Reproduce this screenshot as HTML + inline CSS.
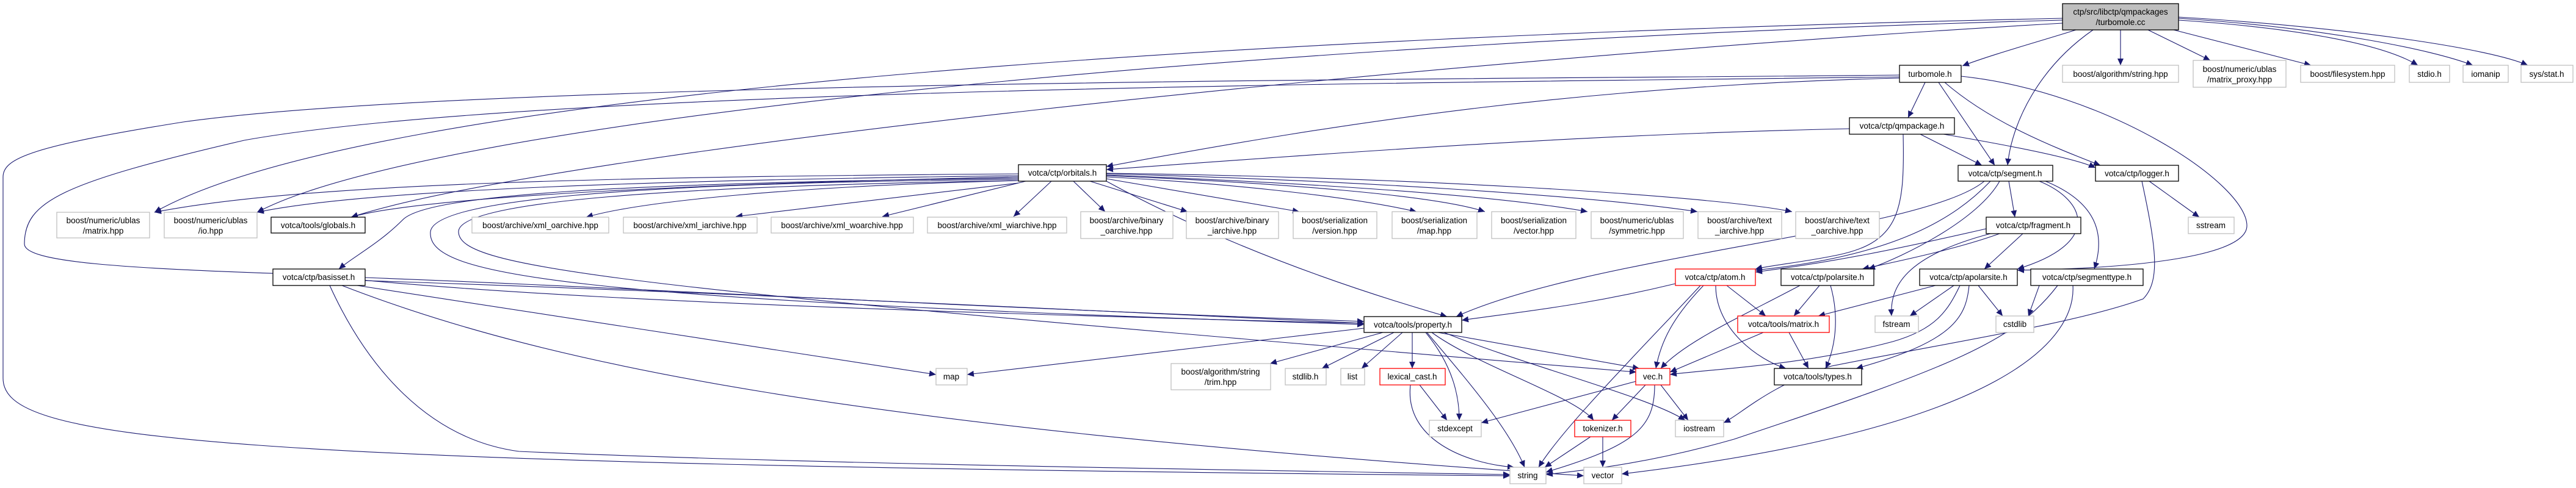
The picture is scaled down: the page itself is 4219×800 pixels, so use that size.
<!DOCTYPE html>
<html><head><meta charset="utf-8"><style>
html,body{margin:0;padding:0;background:#fff;}
svg{display:block}
text{font-family:"Liberation Sans",sans-serif;font-size:13.5px;fill:#000;text-anchor:middle;}
.g{fill:#fff;stroke:#bfbfbf;stroke-width:1.3}
.b{fill:#fff;stroke:#000;stroke-width:1.3}
.r{fill:#fff;stroke:#ff0000;stroke-width:1.3}
path.e{fill:none;stroke:#191970;stroke-width:1.1}
</style></head><body>
<svg width="4219" height="800" viewBox="0 0 4219 800" xmlns="http://www.w3.org/2000/svg">
<defs><marker id="a" markerUnits="userSpaceOnUse" markerWidth="12" markerHeight="10" refX="11" refY="5" orient="auto"><path d="M0,0 L11,5 L0,10 z" fill="#191970"/></marker></defs>
<g marker-end="url(#a)">
<path class="e" d="M3400,49 C3350,65 3260,90 3214,108"/>
<path class="e" d="M3473,49 L3473,107"/>
<path class="e" d="M3518,49 L3620,99"/>
<path class="e" d="M3560,49 L3785,107"/>
<path class="e" d="M3568,33 C3750,45 3900,70 3960,107"/>
<path class="e" d="M3568,30 C3800,45 3980,80 4050,107"/>
<path class="e" d="M3568,28 C3850,45 4080,80 4140,107"/>
<path class="e" d="M3428,49 C3340,110 3295,200 3288,271"/>
<path class="e" d="M3378,30 C2000,60 600,150 253,348"/>
<path class="e" d="M3378,33 C2000,70 700,200 421,348"/>
<path class="e" d="M3378,38 C2300,100 900,250 575,356"/>
<path class="e" d="M3153,135 L3125,193"/>
<path class="e" d="M3175,135 L3267,271"/>
<path class="e" d="M3185,135 C3260,200 3360,240 3440,271"/>
<path class="e" d="M3212,125 C3450,150 3680,300 3680,370 C3680,420 3500,440 3304,443"/>
<path class="e" d="M3111,128 C2600,140 2200,200 1812,273"/>
<path class="e" d="M3111,123 C2500,130 800,130 300,200 C50,240 5,260 5,290 L5,620 C5,720 300,760 2473,780"/>
<path class="e" d="M3111,126 C2500,135 900,140 400,230 C100,300 40,330 40,400 C40,430 200,440 500,450 C700,470 1000,500 2234,530"/>
<path class="e" d="M3145,220 L3246,271"/>
<path class="e" d="M3183,220 C3300,240 3400,260 3432,275"/>
<path class="e" d="M3029,211 C2600,220 2200,250 1812,278"/>
<path class="e" d="M3117,220 C3120,350 3110,400 3000,420 C2950,430 2900,435 2875,441"/>
<path class="e" d="M3260,297 C3200,360 3100,420 2875,443"/>
<path class="e" d="M3275,297 C3240,360 3120,420 3060,441"/>
<path class="e" d="M3250,297 C3150,380 2600,420 2385,519"/>
<path class="e" d="M3290,297 L3300,356"/>
<path class="e" d="M3340,297 C3420,330 3440,400 3304,441"/>
<path class="e" d="M3350,297 C3430,330 3450,380 3430,441"/>
<path class="e" d="M3253,375 C3100,410 3000,430 2875,446"/>
<path class="e" d="M3275,383 C3200,410 3100,430 3050,441"/>
<path class="e" d="M3313,383 L3250,441"/>
<path class="e" d="M3260,383 C3120,420 3095,470 3098,518"/>
<path class="e" d="M3520,297 L3602,356"/>
<path class="e" d="M3508,297 C3530,400 3540,460 3510,490 C3400,530 3200,560 3000,600 C2900,630 2850,680 2823,693"/>
<path class="e" d="M3340,468 L3322,518"/>
<path class="e" d="M3370,468 C3300,560 3200,600 2840,720 C2700,760 2600,770 2532,778"/>
<path class="e" d="M3395,468 C3400,550 3300,700 2656,777"/>
<path class="e" d="M3170,468 L2978,518"/>
<path class="e" d="M3200,468 L3128,518"/>
<path class="e" d="M3240,468 L3280,518"/>
<path class="e" d="M3210,468 C3190,510 3170,540 3100,560 C2950,600 2800,605 2735,614"/>
<path class="e" d="M3225,468 C3220,520 3200,560 3040,604"/>
<path class="e" d="M2948,468 C2850,520 2760,560 2720,604"/>
<path class="e" d="M2980,468 L2938,518"/>
<path class="e" d="M2998,468 C3010,510 3010,560 2990,604"/>
<path class="e" d="M2744,465 C2600,500 2500,510 2394,525"/>
<path class="e" d="M2790,468 C2740,520 2720,560 2712,604"/>
<path class="e" d="M2828,468 L2892,518"/>
<path class="e" d="M2810,468 C2810,540 2880,590 2925,604"/>
<path class="e" d="M2785,468 C2700,560 2560,700 2520,766"/>
<path class="e" d="M2888,545 L2735,610"/>
<path class="e" d="M2930,545 L2962,604"/>
<path class="e" d="M2680,625 L2426,693"/>
<path class="e" d="M2695,631 L2640,689"/>
<path class="e" d="M2720,631 L2765,689"/>
<path class="e" d="M2710,631 C2710,700 2680,730 2532,774"/>
<path class="e" d="M2605,716 L2530,766"/>
<path class="e" d="M2625,716 L2625,766"/>
<path class="e" d="M2325,631 L2370,689"/>
<path class="e" d="M2310,631 C2300,720 2400,760 2480,766"/>
<path class="e" d="M2234,538 L1584,614"/>
<path class="e" d="M2265,545 L2080,596"/>
<path class="e" d="M2283,545 L2165,604"/>
<path class="e" d="M2297,545 L2230,604"/>
<path class="e" d="M2313,545 L2313,604"/>
<path class="e" d="M2335,545 C2380,600 2390,650 2390,689"/>
<path class="e" d="M2337,545 C2400,620 2470,700 2497,766"/>
<path class="e" d="M2355,545 L2685,604"/>
<path class="e" d="M2345,545 C2420,600 2580,650 2610,689"/>
<path class="e" d="M2365,545 C2500,600 2700,650 2760,689"/>
<path class="e" d="M598,460 C1200,480 1800,510 2234,530"/>
<path class="e" d="M598,455 C1000,470 1500,500 2234,527"/>
<path class="e" d="M585,468 L1533,614"/>
<path class="e" d="M540,468 C600,600 700,720 850,740 C1300,760 2000,770 2473,778"/>
<path class="e" d="M560,468 C900,600 1400,700 2594,780"/>
<path class="e" d="M1668,285 C1000,290 500,300 253,348"/>
<path class="e" d="M1668,288 C1100,295 600,310 421,348"/>
<path class="e" d="M1668,290 C1200,300 700,320 575,356"/>
<path class="e" d="M1668,292 C1000,300 700,320 660,360 C620,400 580,420 555,441"/>
<path class="e" d="M1668,294 C1000,300 710,330 705,380 C700,450 900,490 2234,532"/>
<path class="e" d="M1668,296 C1100,305 750,330 751,380 C752,440 1000,470 2680,610"/>
<path class="e" d="M1668,296 C1300,305 1050,330 960,356"/>
<path class="e" d="M1668,300 L1205,355"/>
<path class="e" d="M1680,297 L1445,355"/>
<path class="e" d="M1722,297 L1660,355"/>
<path class="e" d="M1758,297 L1810,347"/>
<path class="e" d="M1785,297 L1945,347"/>
<path class="e" d="M1812,293 L2128,347"/>
<path class="e" d="M1812,290 C2000,300 2200,320 2320,347"/>
<path class="e" d="M1812,288 C2100,300 2350,320 2432,347"/>
<path class="e" d="M1812,287 C2150,300 2450,320 2600,347"/>
<path class="e" d="M1812,285 C2200,295 2600,320 2780,347"/>
<path class="e" d="M1812,284 C2300,290 2800,320 2935,347"/>
<path class="e" d="M1812,297 C2000,400 2200,470 2370,519"/>
</g>
<!-- nodes -->
<rect x="3378" y="6" width="190" height="43" fill="#bfbfbf" stroke="#000" stroke-width="1.3"/>
<text x="3473" y="24">ctp/src/libctp/qmpackages</text><text x="3473" y="41">/turbomole.cc</text>
<rect class="b" x="3111" y="107" width="101" height="28"/><text x="3161" y="126">turbomole.h</text>
<rect class="g" x="3378" y="107" width="190" height="28"/><text x="3473" y="126">boost/algorithm/string.hpp</text>
<rect class="g" x="3592" y="99" width="152" height="44"/><text x="3668" y="118">boost/numeric/ublas</text><text x="3668" y="135">/matrix_proxy.hpp</text>
<rect class="g" x="3768" y="107" width="154" height="28"/><text x="3845" y="126">boost/filesystem.hpp</text>
<rect class="g" x="3946" y="107" width="66" height="28"/><text x="3979" y="126">stdio.h</text>
<rect class="g" x="4034" y="107" width="74" height="28"/><text x="4071" y="126">iomanip</text>
<rect class="g" x="4129" y="107" width="85" height="28"/><text x="4171" y="126">sys/stat.h</text>
<rect class="b" x="3029" y="193" width="172" height="27"/><text x="3115" y="211">votca/ctp/qmpackage.h</text>
<rect class="b" x="3207" y="271" width="155" height="26"/><text x="3284" y="289">votca/ctp/segment.h</text>
<rect class="b" x="3432" y="271" width="136" height="26"/><text x="3500" y="289">votca/ctp/logger.h</text>
<rect class="b" x="1668" y="270" width="144" height="27"/><text x="1740" y="288">votca/ctp/orbitals.h</text>
<rect class="b" x="3253" y="356" width="155" height="27"/><text x="3330" y="374">votca/ctp/fragment.h</text>
<rect class="g" x="3584" y="356" width="75" height="27"/><text x="3621" y="374">sstream</text>
<rect class="g" x="93" y="348" width="152" height="42"/><text x="169" y="366">boost/numeric/ublas</text><text x="169" y="383">/matrix.hpp</text>
<rect class="g" x="269" y="348" width="152" height="42"/><text x="345" y="366">boost/numeric/ublas</text><text x="345" y="383">/io.hpp</text>
<rect class="b" x="444" y="356" width="154" height="26"/><text x="521" y="374">votca/tools/globals.h</text>
<rect class="g" x="773" y="356" width="224" height="26"/><text x="885" y="374">boost/archive/xml_oarchive.hpp</text>
<rect class="g" x="1021" y="356" width="219" height="26"/><text x="1130" y="374">boost/archive/xml_iarchive.hpp</text>
<rect class="g" x="1263" y="356" width="233" height="26"/><text x="1379" y="374">boost/archive/xml_woarchive.hpp</text>
<rect class="g" x="1519" y="356" width="228" height="26"/><text x="1633" y="374">boost/archive/xml_wiarchive.hpp</text>
<rect class="g" x="1770" y="347" width="151" height="44"/><text x="1845" y="366">boost/archive/binary</text><text x="1845" y="383">_oarchive.hpp</text>
<rect class="g" x="1943" y="347" width="151" height="44"/><text x="2018" y="366">boost/archive/binary</text><text x="2018" y="383">_iarchive.hpp</text>
<rect class="g" x="2118" y="347" width="137" height="44"/><text x="2186" y="366">boost/serialization</text><text x="2186" y="383">/version.hpp</text>
<rect class="g" x="2280" y="347" width="139" height="44"/><text x="2349" y="366">boost/serialization</text><text x="2349" y="383">/map.hpp</text>
<rect class="g" x="2443" y="347" width="138" height="44"/><text x="2512" y="366">boost/serialization</text><text x="2512" y="383">/vector.hpp</text>
<rect class="g" x="2606" y="347" width="151" height="44"/><text x="2681" y="366">boost/numeric/ublas</text><text x="2681" y="383">/symmetric.hpp</text>
<rect class="g" x="2781" y="347" width="137" height="44"/><text x="2849" y="366">boost/archive/text</text><text x="2849" y="383">_iarchive.hpp</text>
<rect class="g" x="2941" y="347" width="137" height="44"/><text x="3009" y="366">boost/archive/text</text><text x="3009" y="383">_oarchive.hpp</text>
<rect class="b" x="447" y="441" width="151" height="27"/><text x="522" y="459">votca/ctp/basisset.h</text>
<rect class="r" x="2744" y="441" width="131" height="27"/><text x="2809" y="459">votca/ctp/atom.h</text>
<rect class="b" x="2917" y="441" width="152" height="27"/><text x="2993" y="459">votca/ctp/polarsite.h</text>
<rect class="b" x="3144" y="441" width="160" height="27"/><text x="3224" y="459">votca/ctp/apolarsite.h</text>
<rect class="b" x="3326" y="441" width="184" height="27"/><text x="3418" y="459">votca/ctp/segmenttype.h</text>
<rect class="b" x="2234" y="519" width="160" height="26"/><text x="2314" y="537">votca/tools/property.h</text>
<rect class="r" x="2846" y="518" width="150" height="27"/><text x="2921" y="536">votca/tools/matrix.h</text>
<rect class="g" x="3071" y="518" width="71" height="27"/><text x="3106" y="536">fstream</text>
<rect class="g" x="3269" y="518" width="62" height="27"/><text x="3300" y="536">cstdlib</text>
<rect class="g" x="1533" y="604" width="51" height="27"/><text x="1558" y="622">map</text>
<rect class="g" x="1918" y="596" width="163" height="43"/><text x="1999" y="614">boost/algorithm/string</text><text x="1999" y="631">/trim.hpp</text>
<rect class="g" x="2105" y="604" width="67" height="27"/><text x="2138" y="622">stdlib.h</text>
<rect class="g" x="2196" y="604" width="39" height="27"/><text x="2215" y="622">list</text>
<rect class="r" x="2260" y="604" width="107" height="27"/><text x="2313" y="622">lexical_cast.h</text>
<rect class="r" x="2679" y="604" width="56" height="27"/><text x="2707" y="622">vec.h</text>
<rect class="b" x="2906" y="604" width="143" height="27"/><text x="2977" y="622">votca/tools/types.h</text>
<rect class="g" x="2341" y="689" width="85" height="27"/><text x="2383" y="707">stdexcept</text>
<rect class="r" x="2579" y="689" width="92" height="27"/><text x="2625" y="707">tokenizer.h</text>
<rect class="g" x="2744" y="689" width="79" height="27"/><text x="2783" y="707">iostream</text>
<rect class="g" x="2473" y="766" width="59" height="27"/><text x="2502" y="784">string</text>
<rect class="g" x="2594" y="766" width="62" height="27"/><text x="2625" y="784">vector</text>
</svg>
</body></html>
